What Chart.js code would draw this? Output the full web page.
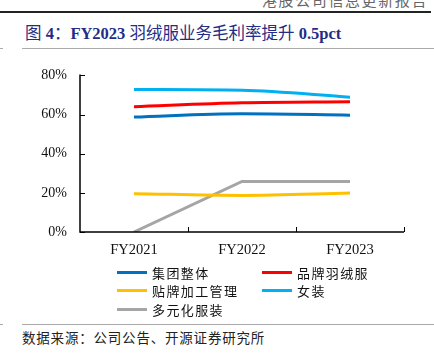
<!DOCTYPE html>
<html><head><meta charset="utf-8">
<script src="https://cdn.jsdelivr.net/npm/chart.js@4"></script>
<style>
html,body{margin:0;padding:0;background:#fff;}
body{width:434px;height:355px;position:relative;overflow:hidden;font-family:"Liberation Serif","Noto Sans CJK SC",serif;}
#hdr{position:absolute;left:262px;top:-11px;font-family:"Noto Sans CJK SC";font-size:15px;letter-spacing:1.6px;color:#666;white-space:nowrap;}
#hline{position:absolute;left:0;top:11px;width:431px;height:2px;background:#222;}
#title{position:absolute;left:25px;top:20px;font-size:16.5px;color:#1F2D86;white-space:nowrap;font-family:"Liberation Serif","Noto Sans CJK SC",serif;}
#title b{font-weight:bold;}
.gl{position:absolute;height:1px;background:#aaa;}
#src{position:absolute;left:22px;top:327px;font-family:"Noto Sans CJK SC";font-size:13.5px;color:#222;white-space:nowrap;letter-spacing:0.8px;}
#cv{position:absolute;left:0;top:54px;}
#legend{position:absolute;left:117px;top:263px;width:300px;font-family:"Noto Sans CJK SC";font-size:13px;color:#111;}
.li{position:absolute;height:18px;display:flex;align-items:center;white-space:nowrap;letter-spacing:1.4px;}
.sw{width:30px;height:3px;margin-right:5px;}
</style></head>
<body>
<div id="hdr">港股公司信息更新报告</div>
<div id="hline"></div>
<div id="title">图 <b>4</b>：<b>FY2023</b> 羽绒服业务毛利率提升 <b>0.5pct</b></div>
<div class="gl" style="left:22px;top:48px;width:412px;"></div>
<div class="gl" style="left:0;top:48px;width:3px;"></div>
<canvas id="cv" width="434" height="210"></canvas>
<div id="legend"></div>
<div class="gl" style="left:22px;top:324px;width:412px;"></div>
<div class="gl" style="left:0;top:324px;width:3px;"></div>
<div id="src">数据来源：公司公告、开源证券研究所</div>
<script>
const categories = ["FY2021", "FY2022", "FY2023"];
const seriesNames = ["集团整体", "品牌羽绒服", "贴牌加工管理", "女装", "多元化服装"];
const groupTotal = [58.7, 60.4, 59.7];
const brandDown = [64.0, 66.0, 66.5];
const oemMgmt = [19.6, 18.7, 19.9];
const womenswear = [72.8, 72.4, 68.9];
const diversified = [0.0, 25.8, 25.8];
const yTicks = [0, 20, 40, 60, 80];
const colors = ["#0070C0", "#FF0000", "#FFC000", "#00B0F0", "#A5A5A5"];
const seriesData = [groupTotal, brandDown, oemMgmt, womenswear, diversified];

const innerTicks = {
  id: 'innerTicks',
  afterDraw(chart) {
    const ctx = chart.ctx, x = chart.scales.x, y = chart.scales.y;
    ctx.save();
    ctx.strokeStyle = '#000';
    ctx.lineWidth = 1.5;
    ctx.beginPath();
    ctx.moveTo(x.left, y.top - 1);
    ctx.lineTo(x.left, y.bottom);
    ctx.lineTo(x.right, y.bottom);
    ctx.stroke();
    ctx.lineWidth = 1;
    y.ticks.forEach((t, i) => {
      const py = Math.round(y.getPixelForTick(i)) + 0.5;
      ctx.beginPath(); ctx.moveTo(x.left, py); ctx.lineTo(x.left + 5, py); ctx.stroke();
    });
    const n = categories.length;
    const p = categories.map((c, i) => x.getPixelForValue(i));
    const step = p[1] - p[0];
    for (let i = 0; i < n; i++) {
      const bx = Math.round(p[i] + step / 2) + 0.5;
      ctx.beginPath(); ctx.moveTo(bx, y.bottom); ctx.lineTo(bx, y.bottom - 5); ctx.stroke();
    }
    ctx.restore();
  }
};

const chart = new Chart(document.getElementById('cv'), {
  type: 'line',
  data: {
    labels: categories,
    datasets: seriesNames.map((name, i) => ({
      label: name,
      data: seriesData[i],
      borderColor: colors[i],
      backgroundColor: colors[i],
      borderWidth: 3,
      pointRadius: 0,
      cubicInterpolationMode: i === 4 ? 'default' : 'monotone',
      tension: 0,
      fill: false
    }))
  },
  options: {
    responsive: false,
    animation: false,
    layout: { padding: { left: 0, right: 30, top: 8, bottom: 0 } },
    plugins: { legend: { display: false }, tooltip: { enabled: false } },
    scales: {
      x: {
        offset: true,
        grid: { display: false, drawTicks: false },
        border: { display: false },
        ticks: { color: '#111', padding: 9, font: { family: 'Liberation Serif', size: 14.5 } },
        afterFit(s) { s.height = 32; }
      },
      y: {
        min: 0, max: 80,
        afterBuildTicks(s) { s.ticks = yTicks.map(v => ({ value: v })); },
        grid: { display: false, drawTicks: false },
        border: { display: false },
        ticks: { color: '#111', padding: 13, font: { family: 'Liberation Serif', size: 14 }, callback: v => v + '%' },
        afterFit(s) { s.width = 80; }
      }
    }
  },
  plugins: [innerTicks]
});

const leg = document.getElementById('legend');
const pos = [[0,0],[145,0],[0,18],[145,18],[0,37]];
chart.data.datasets.forEach((ds, i) => {
  const d = document.createElement('div');
  d.className = 'li';
  d.style.left = pos[i][0] + 'px';
  d.style.top = pos[i][1] + 'px';
  d.innerHTML = '<span class="sw" style="background:' + ds.borderColor + '"></span><span>' + ds.label + '</span>';
  leg.appendChild(d);
});
</script>
</body></html>
